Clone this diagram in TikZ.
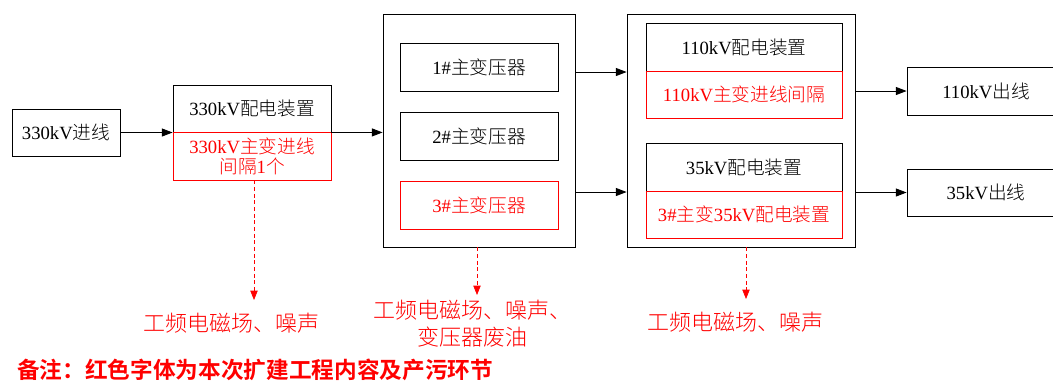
\documentclass[tikz,border=0pt]{standalone}
\usepackage{fontspec}
\setmainfont{Liberation Serif}
\newfontfamily\cjk{Noto Sans CJK SC Light}[BoldFont=Noto Sans CJK SC Bold]
\newcommand\C[1]{{\cjk #1}}
\usetikzlibrary{arrows.meta}
\begin{document}
\begin{tikzpicture}[x=0.75pt,y=-0.75pt,
  box/.style={draw=black,line width=0.65pt,rectangle,inner sep=0pt,align=center,
    font=\fontsize{14}{15}\selectfont},
  rbox/.style={box,draw=red,text=red},
  bigbox/.style={draw=black,line width=0.65pt,rectangle,inner sep=0pt},
  conn/.style={line width=0.65pt,-{Triangle[length=8pt,width=6pt]}},
  rconn/.style={draw=red,line width=0.55pt,dashed,dash pattern=on 3pt off 2pt,
    -{Triangle[length=7pt,width=5.5pt,fill=red]}},
  ptext/.style={text=red,align=center,inner sep=0pt,
    font=\fontsize{16.5}{20}\selectfont\cjk}]
\useasboundingbox (0,0) rectangle (1053,380);

% left
\node[box,minimum width=108*0.75pt,minimum height=47*0.75pt] (in330) at (66,132.5) {330kV\C{进线}};
\node[box,minimum width=158*0.75pt,minimum height=47*0.75pt] (d330t) at (252,108.5) {330kV\C{配电装置}};
\node[rbox,minimum width=158*0.75pt,minimum height=48*0.75pt] (d330b) at (252,156) {330kV\C{主变进线}\\\C{间隔}1\C{个}};

% middle
\node[bigbox,minimum width=192*0.75pt,minimum height=233*0.75pt] (mid) at (479,130.5) {};
\node[box,minimum width=158*0.75pt,minimum height=48*0.75pt] (t1) at (479,67) {1\#\C{主变压器}};
\node[box,minimum width=158*0.75pt,minimum height=48*0.75pt] (t2) at (479,136) {2\#\C{主变压器}};
\node[rbox,minimum width=158*0.75pt,minimum height=48*0.75pt] (t3) at (479,205) {3\#\C{主变压器}};

% right
\node[bigbox,minimum width=228*0.75pt,minimum height=233*0.75pt] (rgt) at (741,130.5) {};
\node[box,minimum width=196*0.75pt,minimum height=48*0.75pt] (d110t) at (744,47) {110kV\C{配电装置}};
\node[rbox,minimum width=196*0.75pt,minimum height=47*0.75pt] (d110b) at (744,94.5) {110kV\C{主变进线间隔}};
\node[box,minimum width=196*0.75pt,minimum height=48*0.75pt] (d35t) at (744,167) {35kV\C{配电装置}};
\node[rbox,minimum width=196*0.75pt,minimum height=47*0.75pt] (d35b) at (744,214.5) {3\#\C{主变}35kV\C{配电装置}};

% outputs
\node[box,minimum width=158*0.75pt,minimum height=48*0.75pt] (o110) at (986,91) {110kV\C{出线}};
\node[box,minimum width=158*0.75pt,minimum height=47*0.75pt] (o35) at (986,192.5) {35kV\C{出线}};

% connectors
\draw[conn] (in330.east) -- (in330.east -| d330t.west);
\draw[conn] (d330t.south east) -- (d330t.south east -| mid.west);
\coordinate (m1) at (mid.north east |- 0,72);
\coordinate (m2) at (mid.north east |- 0,192);
\draw[conn] (m1) -- (m1 -| rgt.west);
\draw[conn] (m2) -- (m2 -| rgt.west);
\draw[conn] (o110.west -| rgt.east) -- (o110.west);
\draw[conn] (o35.west -| rgt.east) -- (o35.west);

% pollution outputs
\coordinate (e1) at (254,300);
\coordinate (e2) at (477,295);
\coordinate (e3) at (746,299);
\draw[rconn] (d330b.south -| e1) -- (e1);
\draw[rconn] (mid.south -| e2) -- (e2);
\draw[rconn] (rgt.south -| e3) -- (e3);
\node[ptext] (p1) at (231,323) {工频电磁场、噪声};
\node[ptext] (p2) at (472,323.5) {工频电磁场、噪声、\\变压器废油};
\node[ptext] (p3) at (735,322) {工频电磁场、噪声};

\node[anchor=west,inner sep=0pt,text=red,font=\fontsize{17}{20}\selectfont\cjk\bfseries] (note) at (17,370) {备注：红色字体为本次扩建工程内容及产污环节};
\end{tikzpicture}
\end{document}
